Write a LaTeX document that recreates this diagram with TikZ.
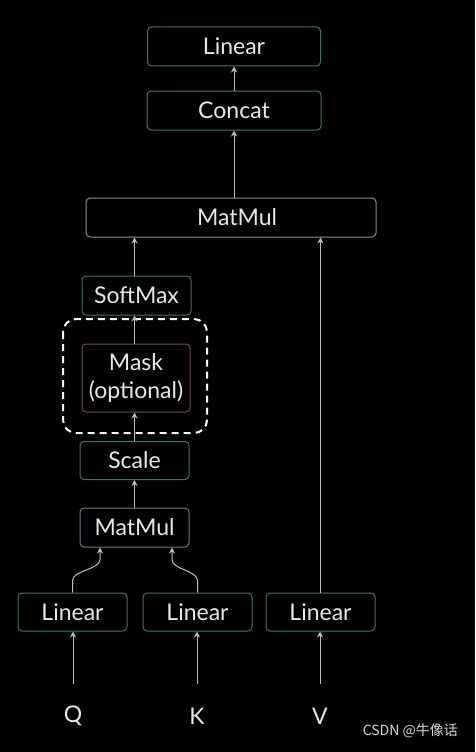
\documentclass[tikz,border=0pt]{standalone}
\usepackage{fontspec}
\setmainfont{Lato}
\newfontfamily\cjkfont{Noto Sans CJK SC}
\usetikzlibrary{arrows.meta,calc}
\definecolor{teal1}{HTML}{427565}
\definecolor{greybox}{HTML}{8C8C8C}
\definecolor{purpbox}{HTML}{7A7390}
\definecolor{maskbox}{HTML}{704E4E}
\definecolor{txt}{HTML}{E8E8E8}
\definecolor{arr}{HTML}{BDBDBD}
\tikzset{
  blk/.style={draw=teal1, line width=1pt, rounded corners=4pt, text=txt,
    font=\fontsize{23}{26}\selectfont, inner sep=0pt, anchor=center},
  conn/.style={draw=arr, line width=1pt, -{Stealth[length=6pt,width=6pt]}},
  lbl/.style={text=txt, font=\fontsize{23}{26}\selectfont, inner sep=0pt},
}
\begin{document}
\begin{tikzpicture}[x=1pt,y=-1pt]
\fill[black] (0,0) rectangle (475,752);
\useasboundingbox (0,0) rectangle (475,752);
% boxes
\node[blk, minimum width=173pt, minimum height=39pt] (lin) at (234,46.5) {Linear};
\node[blk, minimum width=174pt, minimum height=39pt] (cat) at (234,110.5) {Concat};
\node[blk, draw=greybox, minimum width=290pt, minimum height=39pt] (mm2) at (231,217.5) {\hspace{12pt}MatMul};
\node[blk, minimum width=109pt, minimum height=39pt] (sm) at (136.5,295.5) {SoftMax};
\node[blk, draw=maskbox, minimum width=108pt, minimum height=68pt, align=center,
  font=\fontsize{23}{28}\selectfont] (mask) at (136,378) {Mask\\(optional)};
\node[blk, minimum width=109pt, minimum height=38pt] (sc) at (134.5,460.5) {Scale};
\node[blk, draw=purpbox, minimum width=109pt, minimum height=39pt] (mm1) at (134.5,527.5) {MatMul};
\node[blk, minimum width=109pt, minimum height=38pt] (lq) at (72.5,612) {Linear};
\node[blk, minimum width=109pt, minimum height=38pt] (lk) at (197.5,612) {Linear};
\node[blk, minimum width=109pt, minimum height=38pt] (lv) at (320.5,612) {Linear};
% dashed region
\draw[white, line width=2pt, dash pattern=on 7pt off 5pt, rounded corners=13pt]
  (63,319) rectangle (207,433);
% inputs
\node[lbl] (q) at (73,716) {Q};
\node[lbl] (k) at (197,716) {K};
\node[lbl] (v) at (320,716) {V};
\coordinate (qs) at (73,684);
\coordinate (ks) at (197,684);
\coordinate (vs) at (320,684);
% connectors
\draw[conn] (qs) -- (qs |- lq.south);
\draw[conn] (ks) -- (ks |- lk.south);
\draw[conn] (vs) -- (vs |- lv.south);
\draw[conn] (lv.north) -- (lv.north |- mm2.south);
\draw[conn] (lq.north) -- ++(0,-12) .. controls ++(0,-10) and ($(mm1.south)+(-34.5,22)$) .. ($(mm1.south)+(-34.5,12)$) -- ($(mm1.south)+(-34.5,0)$);
\draw[conn] (lk.north) -- ++(0,-12) .. controls ++(0,-10) and ($(mm1.south)+(37.5,22)$) .. ($(mm1.south)+(37.5,12)$) -- ($(mm1.south)+(37.5,0)$);
\draw[conn] (mm1.north) -- (mm1.north |- sc.south);
\draw[conn] (sc.north) -- (sc.north |- mask.south);
\draw[conn] (sc.north |- mask.north) -- (sc.north |- sm.south);
\draw[conn] (sc.north |- sm.north) -- (sc.north |- mm2.south);
\draw[conn] (cat.south |- mm2.north) -- (cat.south);
\draw[conn] (cat.north) -- (lin.south);
% watermark
\node[text=white!85!black, font=\cjkfont\fontsize{14}{16}\selectfont, anchor=east, inner sep=0pt] (wm) at (458,731) {CSDN @牛像话};
\end{tikzpicture}
\end{document}
